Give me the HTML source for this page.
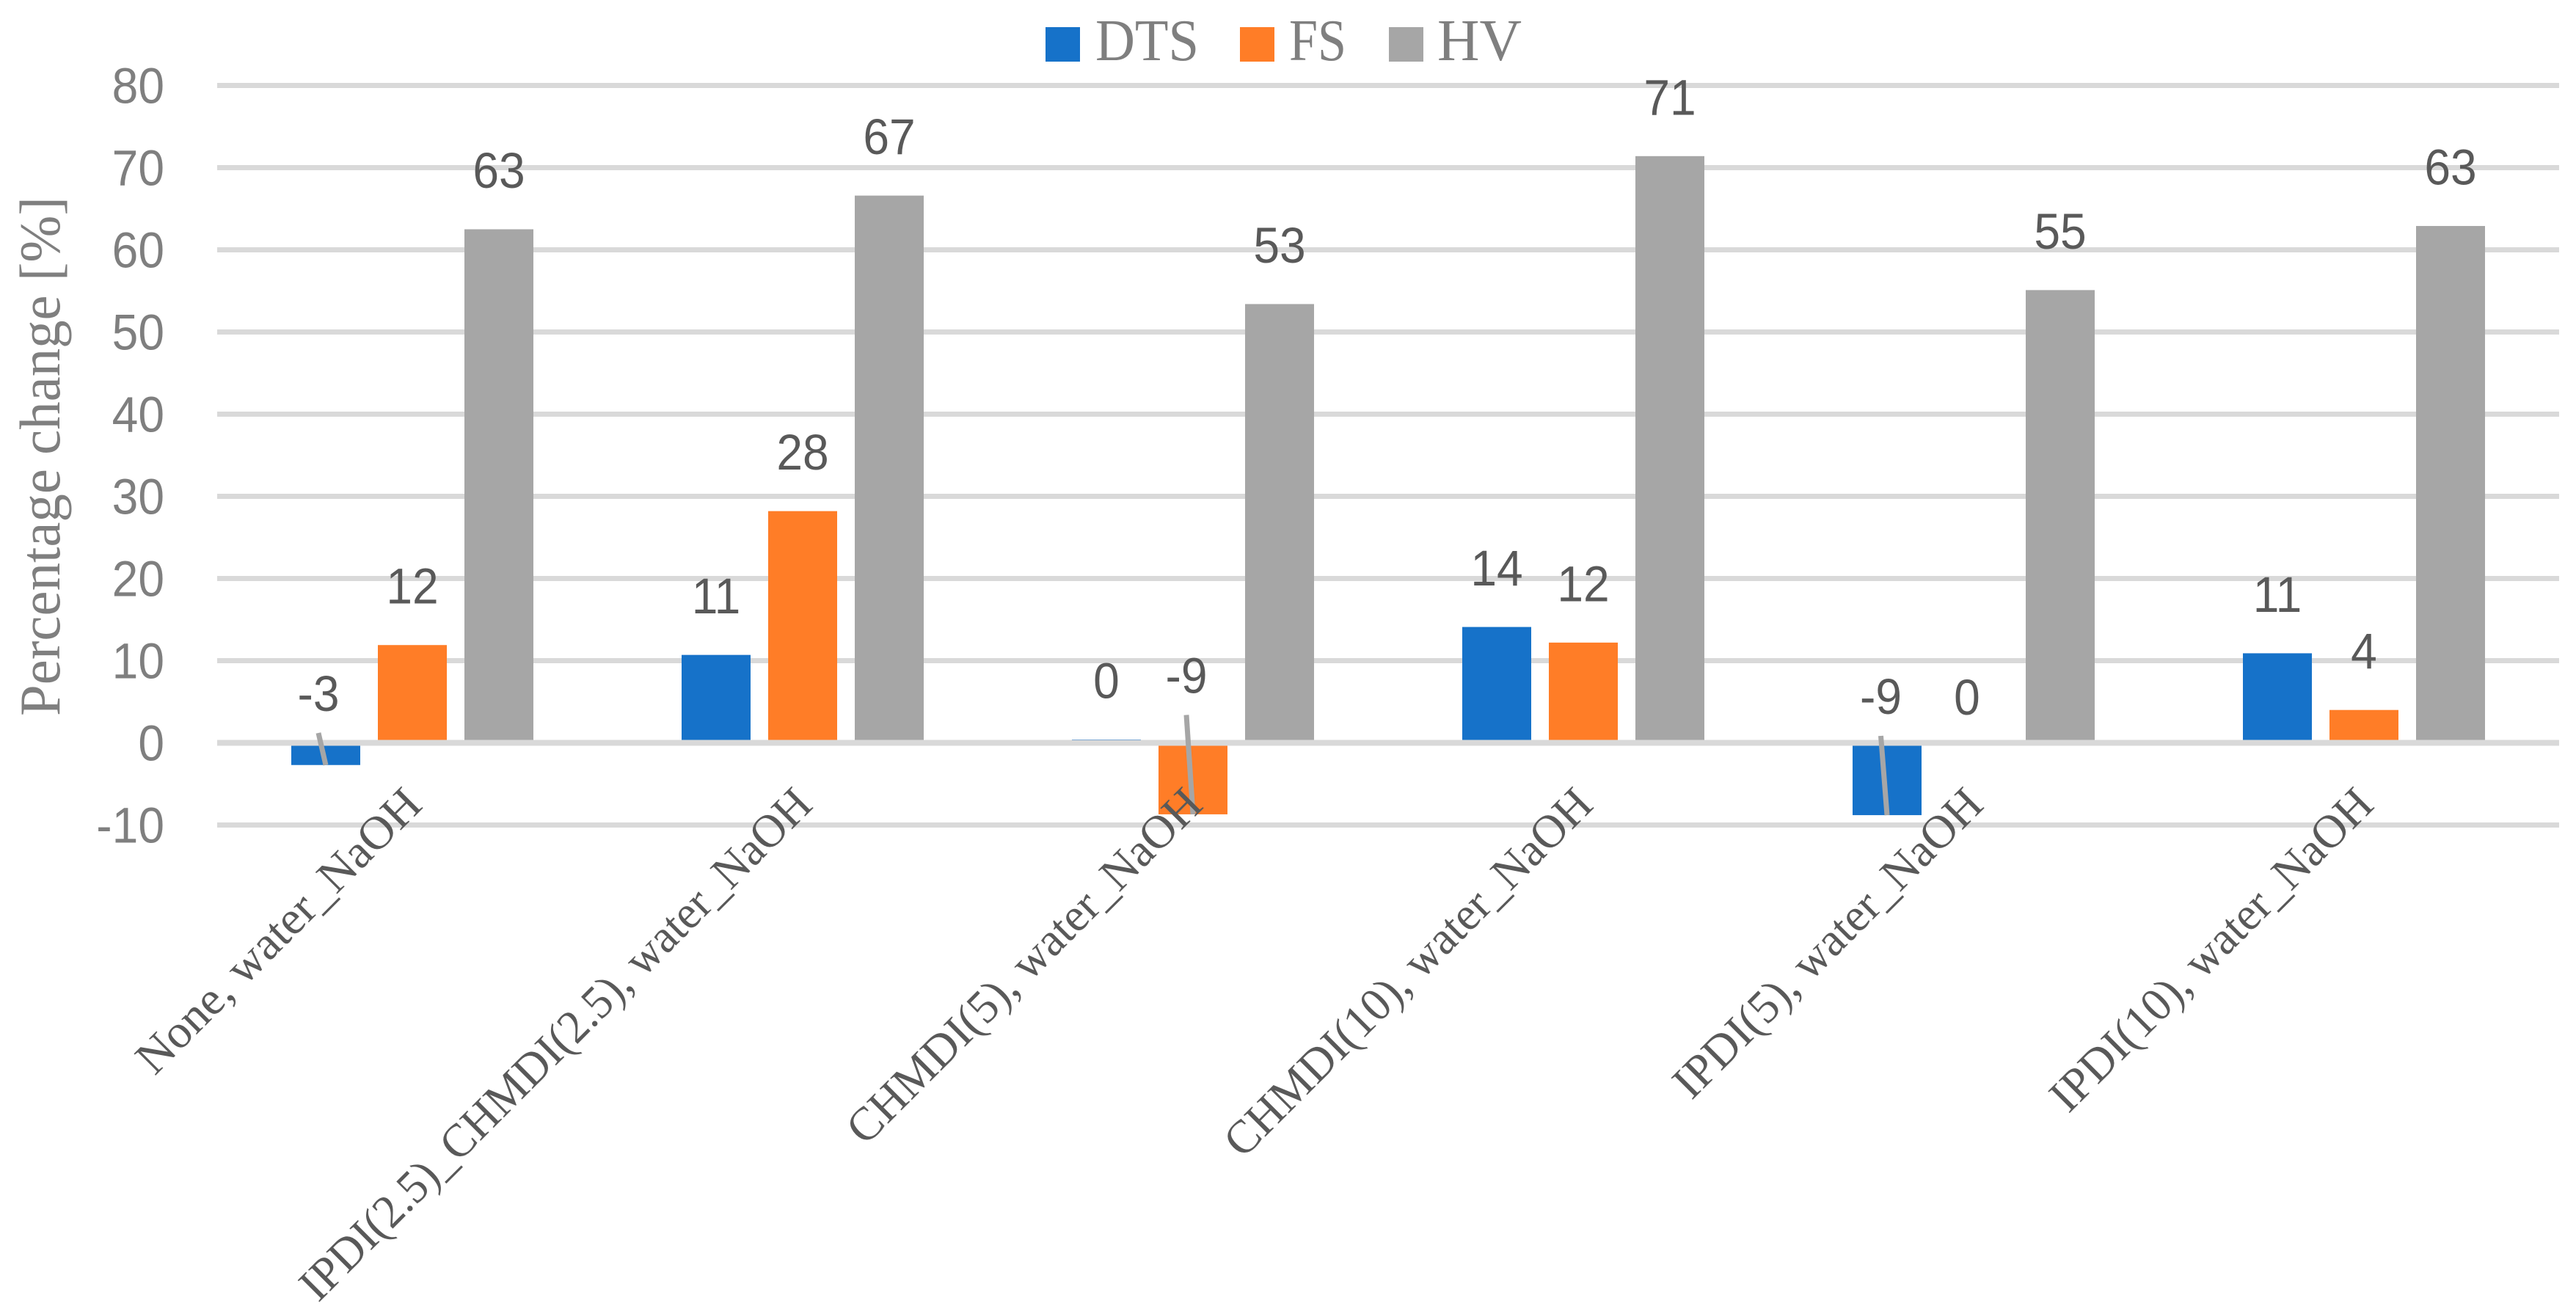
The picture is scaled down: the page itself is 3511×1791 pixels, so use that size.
<!DOCTYPE html>
<html lang="en">
<head>
<meta charset="utf-8">
<title>Percentage change chart</title>
<style>
html,body{margin:0;padding:0;background:#fff;width:3511px;height:1791px;overflow:hidden}
svg{display:block}
.serif{font-family:"Liberation Serif","DejaVu Serif",serif}
.sans{font-family:"Liberation Sans","DejaVu Sans",sans-serif}
</style>
</head>
<body>
<svg id="chart" xmlns="http://www.w3.org/2000/svg" width="3511" height="1791" viewBox="0 0 3511 1791">
  <g>
    <g>
      <rect x="1425" y="37" width="47" height="47" fill="#1672c9"/>
      <text class="serif" x="1493" y="82" font-size="81" fill="#7f7f7f" textLength="141" lengthAdjust="spacingAndGlyphs">DTS</text>
    </g>
    <g>
      <rect x="1690" y="37" width="47" height="47" fill="#ff7d27"/>
      <text class="serif" x="1757" y="82" font-size="81" fill="#7f7f7f" textLength="78" lengthAdjust="spacingAndGlyphs">FS</text>
    </g>
    <g>
      <rect x="1893" y="37" width="47" height="47" fill="#a6a6a6"/>
      <text class="serif" x="1959" y="82" font-size="81" fill="#7f7f7f" textLength="115" lengthAdjust="spacingAndGlyphs">HV</text>
    </g>
  </g>
  <text class="serif" transform="translate(81,976) rotate(-90)" x="0" y="0" font-size="78" fill="#7f7f7f" textLength="708" lengthAdjust="spacingAndGlyphs">Percentage change [%]</text>
</svg>
<script>
const categories = ["None, water_NaOH", "IPDI(2.5)_CHMDI(2.5), water_NaOH", "CHMDI(5), water_NaOH", "CHMDI(10), water_NaOH", "IPDI(5), water_NaOH", "IPDI(10), water_NaOH"];
const seriesNames = ["DTS", "FS", "HV"];
const dtsValues = [-2.7, 10.7, 0.4, 14.1, -8.8, 10.9];
const fsValues = [11.9, 28.2, -8.7, 12.2, 0, 4.0];
const hvValues = [62.5, 66.6, 53.4, 71.4, 55.1, 62.9];
const dtsLabels = ["-3", "11", "0", "14", "-9", "11"];
const fsLabels = ["12", "28", "-9", "12", "0", "4"];
const hvLabels = ["63", "67", "53", "71", "55", "63"];
const yTicks = [-10, 0, 10, 20, 30, 40, 50, 60, 70, 80];

const NS = "http://www.w3.org/2000/svg";
const svg = document.getElementById("chart");
const plotLeft = 296, plotRight = 3488, zeroY = 1012.5, unitPx = 11.2;
const barWidth = 94, barSlot = 118, labelGap = 80.5;
const seriesColors = ["#1672c9", "#ff7d27", "#a6a6a6"];
const seriesValues = [dtsValues, fsValues, hvValues];
const seriesLabels = [dtsLabels, fsLabels, hvLabels];
// per-label horizontal stretch: the substitute serif has different proportions from the original
const categoryStretch = [1.015, 0.968, 0.99, 0.98, 0.99, 0.98];
// hand-moved data labels (series index, category index): offset from the default spot
const movedLabels = {
  "0-0": {dx: -10, dy: 13, leader: true},
  "1-2": {dx: -9, dy: -11.5, leader: true},
  "0-4": {dx: -8.5, dy: 17, leader: true},
  "1-4": {dx: -9, dy: 18, leader: false}
};

function yScale(v) { return zeroY - v * unitPx; }
function groupCenter(i) { return plotLeft + (plotRight - plotLeft) / categories.length * (i + 0.5); }
function barCenter(s, i) { return groupCenter(i) + (s - 1) * barSlot; }
function make(tag, attrs, parent) {
  const el = document.createElementNS(NS, tag);
  for (const k in attrs) el.setAttribute(k, attrs[k]);
  parent.appendChild(el);
  return el;
}

const gridGroup = make("g", {}, svg);


const tickGroup = make("g", {}, svg);



yTicks.forEach(function (t) {
  if (t !== 0) {
    const line = make("rect", {x: plotLeft, y: yScale(t) - 3.5, width: plotRight - plotLeft, height: 7, fill: "#d9d9d9"}, gridGroup);
    
    
  }
  const label = make("text", {"text-anchor": "end", transform: "translate(224," + (yScale(t) + 24) + ") scale(0.93,1)", "font-size": 69, fill: "#7f7f7f", class: "sans"}, tickGroup);
  
  
  label.textContent = String(t);
});

const barGroup = make("g", {}, svg);


seriesValues.forEach(function (vals, s) {
  vals.forEach(function (v, i) {
    const top = yScale(Math.max(v, 0)), bottom = yScale(Math.min(v, 0));
    const bar = make("rect", {x: barCenter(s, i) - barWidth / 2, y: top, width: barWidth, height: bottom - top, fill: seriesColors[s]}, barGroup);
    
    
  });
});

const zeroLine = make("rect", {x: plotLeft, y: zeroY - 4, width: plotRight - plotLeft, height: 8, fill: "#d9d9d9"}, svg);



const labelGroup = make("g", {}, svg);


seriesValues.forEach(function (vals, s) {
  vals.forEach(function (v, i) {
    const moved = movedLabels[s + "-" + i] || {dx: 0, dy: 0, leader: false};
    const cx = barCenter(s, i) + moved.dx;
    const cy = yScale(Math.max(v, 0)) - labelGap + moved.dy;
    if (moved.leader) {
      const leader = make("line", {x1: cx, y1: cy + 54, x2: barCenter(s, i), y2: yScale(v), stroke: "#a6a6a6", "stroke-width": 7}, labelGroup);
      
      
    }
    const txt = make("text", {"text-anchor": "middle", transform: "translate(" + cx + "," + (cy + 24) + ") scale(0.93,1)", "font-size": 69, fill: "#595959", class: "sans"}, labelGroup);
    
    
    txt.textContent = seriesLabels[s][i];
  });
});

const catGroup = make("g", {}, svg);


categories.forEach(function (c, i) {
  const x = groupCenter(i) + 16, y = 1100;
  const txt = make("text", {"text-anchor": "end", transform: "translate(" + x + "," + y + ") rotate(-45) scale(" + categoryStretch[i] + ",1)", "font-size": 64, fill: "#595959", class: "serif"}, catGroup);
  
  
  txt.textContent = c;
});
</script>
</body>
</html>
